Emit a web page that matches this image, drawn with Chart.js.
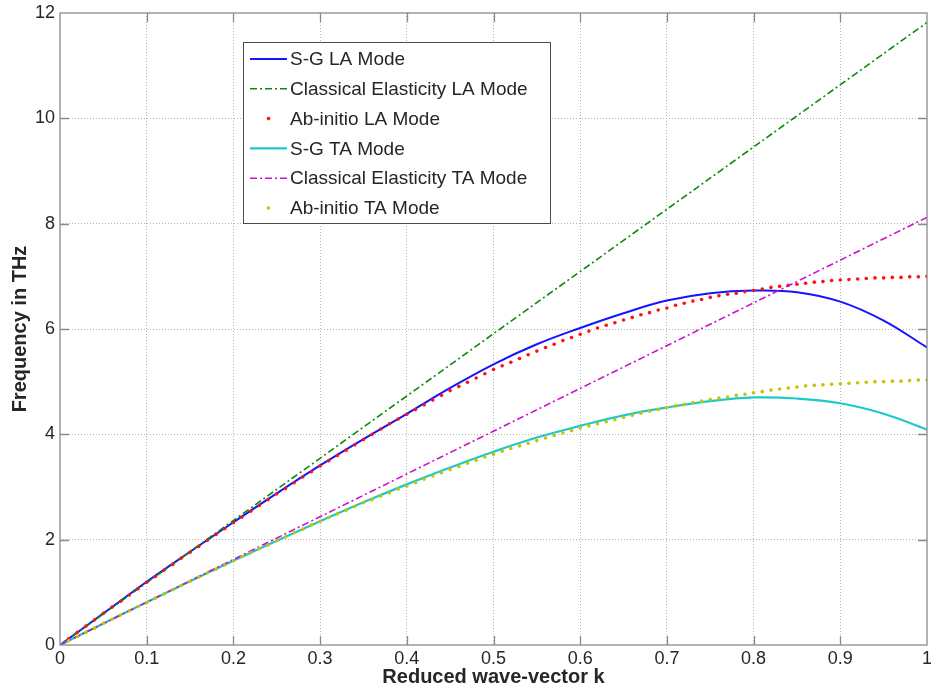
<!DOCTYPE html>
<html>
<head>
<meta charset="utf-8">
<script src="https://cdn.jsdelivr.net/npm/chart.js@4.4.0/dist/chart.umd.min.js"></script>
<style>
    html, body { margin: 0; padding: 0; background: #fff; }
    canvas { display: block; }
</style>
</head>
<body>
<canvas id="chart" width="931" height="694"></canvas>
<script>
// reduced wave-vector samples
const kEnds = [0, 1];

const kCoarse = [
    0, 0.05, 0.1, 0.15, 0.2, 0.25, 0.3, 0.35, 0.4, 0.45,
    0.5, 0.55, 0.6, 0.65, 0.7, 0.75, 0.8, 0.85, 0.9, 0.95, 1
];

const kFine = [
    0, 0.01, 0.02, 0.03, 0.04, 0.05, 0.06, 0.07, 0.08, 0.09,
    0.1, 0.11, 0.12, 0.13, 0.14, 0.15, 0.16, 0.17, 0.18, 0.19,
    0.2, 0.21, 0.22, 0.23, 0.24, 0.25, 0.26, 0.27, 0.28, 0.29,
    0.3, 0.31, 0.32, 0.33, 0.34, 0.35, 0.36, 0.37, 0.38, 0.39,
    0.4, 0.41, 0.42, 0.43, 0.44, 0.45, 0.46, 0.47, 0.48, 0.49,
    0.5, 0.51, 0.52, 0.53, 0.54, 0.55, 0.56, 0.57, 0.58, 0.59,
    0.6, 0.61, 0.62, 0.63, 0.64, 0.65, 0.66, 0.67, 0.68, 0.69,
    0.7, 0.71, 0.72, 0.73, 0.74, 0.75, 0.76, 0.77, 0.78, 0.79,
    0.8, 0.81, 0.82, 0.83, 0.84, 0.85, 0.86, 0.87, 0.88, 0.89,
    0.9, 0.91, 0.92, 0.93, 0.94, 0.95, 0.96, 0.97, 0.98, 0.99,
    1
];

// frequencies in THz
const sgLA = [
    0, 0.60, 1.20, 1.77, 2.33, 2.88, 3.41, 3.91, 4.39, 4.88,
    5.33, 5.71, 6.02, 6.30, 6.54, 6.68, 6.73, 6.70, 6.52, 6.16, 5.65
];

const classicalLA = [0, 11.82];

const abInitioLA = [
    0.00, 0.12, 0.24, 0.36, 0.48, 0.60, 0.72, 0.83, 0.95, 1.07,
    1.19, 1.30, 1.42, 1.53, 1.65, 1.76, 1.87, 1.99, 2.10, 2.21,
    2.32, 2.43, 2.54, 2.65, 2.76, 2.87, 2.97, 3.08, 3.19, 3.29,
    3.40, 3.50, 3.60, 3.70, 3.80, 3.90, 4.00, 4.10, 4.20, 4.29,
    4.38, 4.47, 4.56, 4.65, 4.74, 4.83, 4.91, 4.99, 5.07, 5.15,
    5.23, 5.30, 5.37, 5.44, 5.51, 5.58, 5.65, 5.71, 5.78, 5.84,
    5.90, 5.96, 6.02, 6.07, 6.12, 6.17, 6.22, 6.27, 6.31, 6.36,
    6.40, 6.45, 6.49, 6.53, 6.56, 6.60, 6.63, 6.66, 6.68, 6.71,
    6.73, 6.76, 6.79, 6.81, 6.83, 6.85, 6.87, 6.89, 6.90, 6.92,
    6.93, 6.94, 6.95, 6.96, 6.97, 6.97, 6.98, 6.98, 6.99, 6.99,
    7.00
];

const sgTA = [
    0, 0.41, 0.81, 1.21, 1.60, 1.98, 2.35, 2.71, 3.05, 3.37,
    3.67, 3.94, 4.16, 4.36, 4.51, 4.63, 4.70, 4.68, 4.59, 4.39, 4.09
];

const classicalTA = [0, 8.12];

const abInitioTA = [
    0.00, 0.08, 0.16, 0.24, 0.32, 0.41, 0.49, 0.57, 0.65, 0.73,
    0.81, 0.89, 0.97, 1.05, 1.13, 1.21, 1.29, 1.37, 1.44, 1.52,
    1.60, 1.68, 1.75, 1.83, 1.90, 1.98, 2.05, 2.13, 2.20, 2.28,
    2.35, 2.42, 2.49, 2.56, 2.63, 2.70, 2.76, 2.83, 2.89, 2.96,
    3.02, 3.08, 3.15, 3.21, 3.27, 3.33, 3.39, 3.45, 3.51, 3.57,
    3.62, 3.68, 3.73, 3.78, 3.83, 3.88, 3.93, 3.98, 4.03, 4.07,
    4.12, 4.16, 4.20, 4.24, 4.28, 4.32, 4.36, 4.40, 4.44, 4.47,
    4.51, 4.54, 4.57, 4.60, 4.63, 4.66, 4.69, 4.71, 4.74, 4.76,
    4.79, 4.81, 4.84, 4.86, 4.88, 4.90, 4.92, 4.93, 4.94, 4.95,
    4.96, 4.97, 4.98, 4.99, 5.00, 5.00, 5.01, 5.01, 5.02, 5.03,
    5.03
];

const seriesLabels = [
    "S-G LA Mode",
    "Classical Elasticity LA Mode",
    "Ab-initio LA Mode",
    "S-G TA Mode",
    "Classical Elasticity TA Mode",
    "Ab-initio TA Mode"
];

const fontFamily = "'Liberation Sans', Arial, Helvetica, sans-serif";
const textColor = "#262626";
const axisColor = "#8a8a8a";
const gridColor = "#b4b4b4";
const dashDot = [7, 3, 2, 3];

function pairs(xs, ys) {
    return xs.map((x, i) => ({ x: x, y: ys[i] }));
}

function lineSet(label, xs, ys, color, width, dash, order) {
    return {
        label,
        data: pairs(xs, ys),
        showLine: true,
        borderColor: color,
        backgroundColor: color,
        borderWidth: width,
        borderDash: dash,
        pointRadius: 0,
        tension: 0.4,
        order
    };
}

function dotSet(label, xs, ys, color, order) {
    return {
        label,
        data: pairs(xs, ys),
        showLine: false,
        borderColor: color,
        backgroundColor: color,
        pointBackgroundColor: color,
        pointBorderWidth: 0,
        pointRadius: 1.8,
        order
    };
}

const datasets = [
    lineSet(seriesLabels[0], kCoarse, sgLA, "#1414ff", 2, [], 5),
    lineSet(seriesLabels[1], kEnds, classicalLA, "#0a8a0a", 1.6, dashDot, 4),
    dotSet(seriesLabels[2], kFine, abInitioLA, "#ff1010", 3),
    lineSet(seriesLabels[3], kCoarse, sgTA, "#1ec8c8", 2.2, [], 2),
    lineSet(seriesLabels[4], kEnds, classicalTA, "#cc10cc", 1.6, dashDot, 1),
    dotSet(seriesLabels[5], kFine, abInitioTA, "#c4c400", 0)
];

// box round the plot and MATLAB style inward ticks
const axesBox = {
    id: "axesBox",
    afterDraw(chart) {
        const { ctx, chartArea: a, scales } = chart;
        const len = 9;
        ctx.save();
        ctx.strokeStyle = axisColor;
        ctx.lineWidth = 1.3;
        ctx.strokeRect(a.left, a.top, a.right - a.left, a.bottom - a.top);
        ctx.beginPath();
        scales.x.ticks.forEach(t => {
            if (t.value <= 0 || t.value >= 1) return;
            const px = Math.round(scales.x.getPixelForValue(t.value)) + 0.5;
            ctx.moveTo(px, a.bottom);
            ctx.lineTo(px, a.bottom - len);
            ctx.moveTo(px, a.top);
            ctx.lineTo(px, a.top + len);
        });
        scales.y.ticks.forEach(t => {
            if (t.value <= 0 || t.value >= 12) return;
            const py = Math.round(scales.y.getPixelForValue(t.value)) + 0.5;
            ctx.moveTo(a.left, py);
            ctx.lineTo(a.left + len, py);
            ctx.moveTo(a.right, py);
            ctx.lineTo(a.right - len, py);
        });
        ctx.stroke();
        ctx.restore();
    }
};

// legend drawn inside the axes
const innerLegend = {
    id: "innerLegend",
    afterDraw(chart) {
        const { ctx } = chart;
        const box = { left: 243.5, top: 42.5, width: 307, height: 181 };
        ctx.save();
        ctx.fillStyle = "#fff";
        ctx.fillRect(box.left, box.top, box.width, box.height);
        ctx.strokeStyle = "#4a4a4a";
        ctx.lineWidth = 1;
        ctx.strokeRect(box.left, box.top, box.width, box.height);
        ctx.font = "19px " + fontFamily;
        ctx.textBaseline = "middle";
        ctx.fillStyle = textColor;
        chart.data.datasets.forEach((ds, i) => {
            const y = 59 + i * 29.8;
            if (ds.showLine) {
                ctx.strokeStyle = ds.borderColor;
                ctx.lineWidth = ds.borderWidth;
                ctx.setLineDash(ds.borderDash || []);
                ctx.beginPath();
                ctx.moveTo(250, y);
                ctx.lineTo(287, y);
                ctx.stroke();
                ctx.setLineDash([]);
            } else {
                ctx.fillStyle = ds.pointBackgroundColor;
                ctx.beginPath();
                ctx.arc(268.5, y, 1.8, 0, Math.PI * 2);
                ctx.fill();
            }
            ctx.fillStyle = textColor;
            ctx.fillText(ds.label, 290, y + 1);
        });
        ctx.restore();
    }
};

new Chart(document.getElementById("chart"), {
    type: "scatter",
    data: { datasets },
    options: {
        responsive: false,
        animation: false,
        layout: {
            padding: { top: 13, right: 3, left: 0, bottom: 0 }
        },
        plugins: {
            legend: { display: false },
            tooltip: { enabled: false }
        },
        scales: {
            x: {
                type: "linear",
                min: 0,
                max: 1,
                afterFit(scale) {
                    scale.height = 49;
                    scale.paddingLeft = 0;
                    scale.paddingRight = 0;
                },
                ticks: {
                    stepSize: 0.1,
                    padding: 3,
                    color: textColor,
                    font: { family: fontFamily, size: 18 },
                    maxRotation: 0,
                    autoSkip: false,
                    callback: v => String(Number(v.toFixed(1)))
                },
                grid: {
                    color: gridColor,
                    drawTicks: false,
                    tickLength: 0,
                    lineWidth: c => (c.tick && (c.tick.value <= 0 || c.tick.value >= 1)) ? 0 : 1
                },
                border: { display: false, dash: [1, 2] },
                title: {
                    display: true,
                    text: "Reduced wave-vector k",
                    color: textColor,
                    font: { family: fontFamily, size: 20, weight: "bold" },
                    padding: { top: 0, bottom: 5 }
                }
            },
            y: {
                min: 0,
                max: 12,
                afterFit(scale) {
                    scale.width = 60;
                    scale.paddingTop = 0;
                    scale.paddingBottom = 0;
                },
                ticks: {
                    stepSize: 2,
                    padding: 5,
                    color: textColor,
                    font: { family: fontFamily, size: 18 }
                },
                grid: {
                    color: gridColor,
                    drawTicks: false,
                    tickLength: 0,
                    lineWidth: c => (c.tick && (c.tick.value <= 0 || c.tick.value >= 12)) ? 0 : 1
                },
                border: { display: false, dash: [1, 2] },
                title: {
                    display: true,
                    text: "Frequency in THz",
                    color: textColor,
                    font: { family: fontFamily, size: 20, weight: "bold" },
                    padding: { top: 8, bottom: 0 }
                }
            }
        }
    },
    plugins: [axesBox, innerLegend]
});
</script>
</body>
</html>
